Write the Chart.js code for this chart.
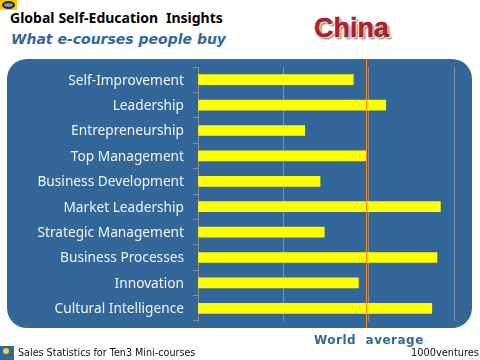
<!DOCTYPE html>
<html>
<head>
<meta charset="utf-8">
<title>China</title>
<script src="https://cdn.jsdelivr.net/npm/chart.js@4"></script>
<style>
  html, body { margin: 0; padding: 0; background: #fff; }
  #wrap { position: relative; width: 480px; height: 360px; overflow: hidden; }
  #panel { position: absolute; left: 7px; top: 59px; width: 465px; height: 269px; background: #336699; border-radius: 20px; }
  #wrap canvas { position: absolute; left: 0; top: 0; }
  .txt { position: absolute; white-space: pre; }
  #title { left: 10px; top: 8px; font: bold 14px "Noto Sans", sans-serif; color: #000; word-spacing: 0.3px; }
  #sub { left: 11px; top: 31px; font: italic bold 14px "DejaVu Sans", sans-serif; color: #336699; }
  #country { left: 314px; top: 13px; font: bold 27px "Liberation Sans", sans-serif; color: #b3202a; text-shadow: 1px 1px 0 #fff, 2px 2px 2px #666; -webkit-text-stroke: 0.4px #8c1820; }
  #world { left: 314px; top: 333px; font: bold 12px "DejaVu Sans", sans-serif; color: #336699; letter-spacing: 0.5px; }
  #sales { left: 18px; top: 347px; font: 9.6px "DejaVu Sans", sans-serif; color: #111; }
  #brand { left: 411px; top: 347px; font: 9.8px "DejaVu Sans", sans-serif; color: #111; }
  #eye { position: absolute; left: 0; top: 0; width: 17px; height: 10px; background: #ffcc00; }
  #eye i { position: absolute; left: 2px; top: 1px; width: 13px; height: 8px; border-radius: 50%; background: #8890b8; border: 2px solid #223; box-sizing: border-box; }
  #logo { position: absolute; left: 0; top: 346px; width: 14px; height: 14px; background: #336699; }
  #logo i { position: absolute; left: 3px; top: 2px; width: 6px; height: 6px; border-radius: 50%; background: #ffcc33; }
</style>
</head>
<body>
<div id="wrap">
  <div id="eye"><i></i></div>
  <div id="panel"></div>
  <div class="txt" id="title">Global Self-Education  Insights</div>
  <div class="txt" id="sub">What e-courses people buy</div>
  <div class="txt" id="country">China</div>
  <canvas id="chart" width="480" height="360"></canvas>
  <div class="txt" id="world">World  average</div>
  <div id="logo"><i></i></div>
  <div class="txt" id="sales">Sales Statistics for Ten3 Mini-courses</div>
  <div class="txt" id="brand">1000ventures</div>
</div>
<script>
// Values (grid lines taken as 1, 2, 3)
var categories = ['Self-Improvement', 'Leadership', 'Entrepreneurship', 'Top Management', 'Business Development',
  'Market Leadership', 'Strategic Management', 'Business Processes', 'Innovation', 'Cultural Intelligence'];
var sales = [1.82, 2.2, 1.25, 1.97, 1.43, 2.84, 1.48, 2.8, 1.88, 2.74];
var worldAverage = 1.97;

// World average marker, runs the full height of the blue panel
var averageLine = {
  id: 'averageLine',
  afterDatasetsDraw: function(chart) {
    var x = Math.floor(chart.scales.x.getPixelForValue(worldAverage)) + 0.5;
    var ctx = chart.ctx;
    ctx.save();
    ctx.strokeStyle = '#ff8c1a';
    ctx.lineWidth = 1;
    ctx.beginPath();
    ctx.moveTo(x, 59);
    ctx.lineTo(x, 328);
    ctx.stroke();
    ctx.restore();
  }
};

new Chart(document.getElementById('chart'), {
  type: 'bar',
  data: {
    labels: categories,
    datasets: [{ data: sales, backgroundColor: '#ffff00', barThickness: 10 }]
  },
  options: {
    indexAxis: 'y',
    responsive: false,
    animation: false,
    layout: { padding: { left: 0, top: 67, right: 26, bottom: 39 } },
    plugins: { legend: { display: false }, tooltip: { enabled: false } },
    scales: {
      x: {
        min: 0,
        max: 3,
        ticks: { display: false, stepSize: 1 },
        grid: { color: '#8a8f96', lineWidth: 1, tickLength: 0 },
        border: { display: false }
      },
      y: {
        afterFit: function(scale) { scale.width = 198; },
        ticks: { color: '#f0f4f8', padding: 9, labelOffset: 1, font: { family: '"Noto Sans"', size: 13.7 } },
        grid: { drawOnChartArea: false, color: '#8a8f96', tickLength: 5 },
        border: { color: '#8a8f96' }
      }
    }
  },
  plugins: [averageLine]
});
</script>
</body>
</html>
